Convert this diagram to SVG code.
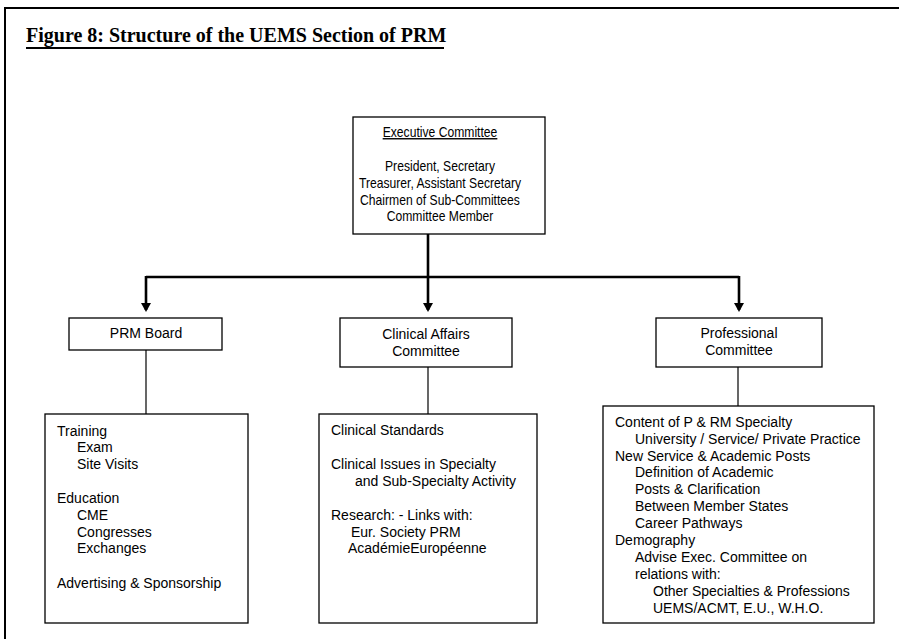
<svg xmlns="http://www.w3.org/2000/svg" width="899" height="639" viewBox="0 0 899 639">
<style>
.box{fill:#fff;stroke:#000;stroke-width:1.3}
.t{font-family:"Liberation Sans",Arial,sans-serif;font-size:14px;fill:#000}
.c{text-anchor:middle}
.thick{fill:none;stroke:#000;stroke-width:2.6}
.thin{fill:none;stroke:#000;stroke-width:1.2}
</style>
<defs>
<marker id="ah" markerWidth="9" markerHeight="10" refX="7" refY="5" orient="auto" markerUnits="userSpaceOnUse" viewBox="0 0 9 10">
<path d="M0,0 L9,5 L0,10 z" fill="#000"/>
</marker>
</defs>
<rect x="0" y="0" width="899" height="639" fill="#fff"/>
<rect x="5" y="8" width="900" height="640" fill="none" stroke="#000" stroke-width="2"/>
<g id="title">
<text x="26" y="42" font-family="'Liberation Serif','Times New Roman',serif" font-size="20" font-weight="bold">Figure 8: Structure of the UEMS Section of PRM</text>
<rect x="26" y="47" width="418" height="2" fill="#000"/>
</g>
<g id="connectors">
<path class="thick" d="M428,234 V277"/>
<path class="thick" d="M146,277 H739"/>
<path class="thick" d="M146,276 V310" marker-end="url(#ah)"/>
<path class="thick" d="M428,277 V310" marker-end="url(#ah)"/>
<path class="thick" d="M739,276 V310" marker-end="url(#ah)"/>
<path class="thin" d="M146,350 V414"/>
<path class="thin" d="M428,367 V414"/>
<path class="thin" d="M738,367 V406"/>
</g>
<g id="exec">
<rect class="box" x="353" y="117" width="192" height="117"/>
<g transform="translate(440,0) scale(0.868,1)">
<text class="t c" x="0" y="137" text-decoration="underline">Executive Committee</text>
<text class="t c" x="0" y="171">President, Secretary</text>
<text class="t c" x="0" y="188">Treasurer, Assistant Secretary</text>
<text class="t c" x="0" y="205">Chairmen of Sub-Committees</text>
<text class="t c" x="0" y="221">Committee Member</text>
</g>
</g>
<g id="prm-board">
<rect class="box" x="69" y="318" width="153" height="32"/>
<text class="t c" x="146" y="338">PRM Board</text>
</g>
<g id="clinical">
<rect class="box" x="340" y="318" width="172" height="49"/>
<text class="t c" x="426" y="339">Clinical Affairs</text>
<text class="t c" x="426" y="356">Committee</text>
</g>
<g id="professional">
<rect class="box" x="656" y="318" width="166" height="49"/>
<text class="t c" x="739" y="338">Professional</text>
<text class="t c" x="739" y="355">Committee</text>
</g>
<g id="prm-tasks">
<rect class="box" x="45" y="414" width="203" height="209"/>
<text class="t" x="57" y="436">Training</text>
<text class="t" x="77" y="452">Exam</text>
<text class="t" x="77" y="469">Site Visits</text>
<text class="t" x="57" y="503">Education</text>
<text class="t" x="77" y="520">CME</text>
<text class="t" x="77" y="537">Congresses</text>
<text class="t" x="77" y="553">Exchanges</text>
<text class="t" x="57" y="588">Advertising &amp; Sponsorship</text>
</g>
<g id="clinical-tasks">
<rect class="box" x="319" y="414" width="218" height="209"/>
<text class="t" x="331" y="435">Clinical Standards</text>
<text class="t" x="331" y="469">Clinical Issues in Specialty</text>
<text class="t" x="355" y="486">and Sub-Specialty Activity</text>
<text class="t" x="331" y="520">Research: - Links with:</text>
<text class="t" x="351" y="537">Eur. Society PRM</text>
<text class="t" x="348" y="553">AcadémieEuropéenne</text>
</g>
<g id="professional-tasks">
<rect class="box" x="603" y="406" width="271" height="217"/>
<text class="t" x="615" y="427">Content of P &amp; RM Specialty</text>
<text class="t" x="635" y="444">University / Service/ Private Practice</text>
<text class="t" x="615" y="461">New Service &amp; Academic Posts</text>
<text class="t" x="635" y="477">Definition of Academic</text>
<text class="t" x="635" y="494">Posts &amp; Clarification</text>
<text class="t" x="635" y="511">Between Member States</text>
<text class="t" x="635" y="528">Career Pathways</text>
<text class="t" x="615" y="545">Demography</text>
<text class="t" x="635" y="562">Advise Exec. Committee on</text>
<text class="t" x="635" y="579">relations with:</text>
<text class="t" x="653" y="596">Other Specialties &amp; Professions</text>
<text class="t" x="653" y="613">UEMS/ACMT, E.U., W.H.O.</text>
</g>
</svg>
